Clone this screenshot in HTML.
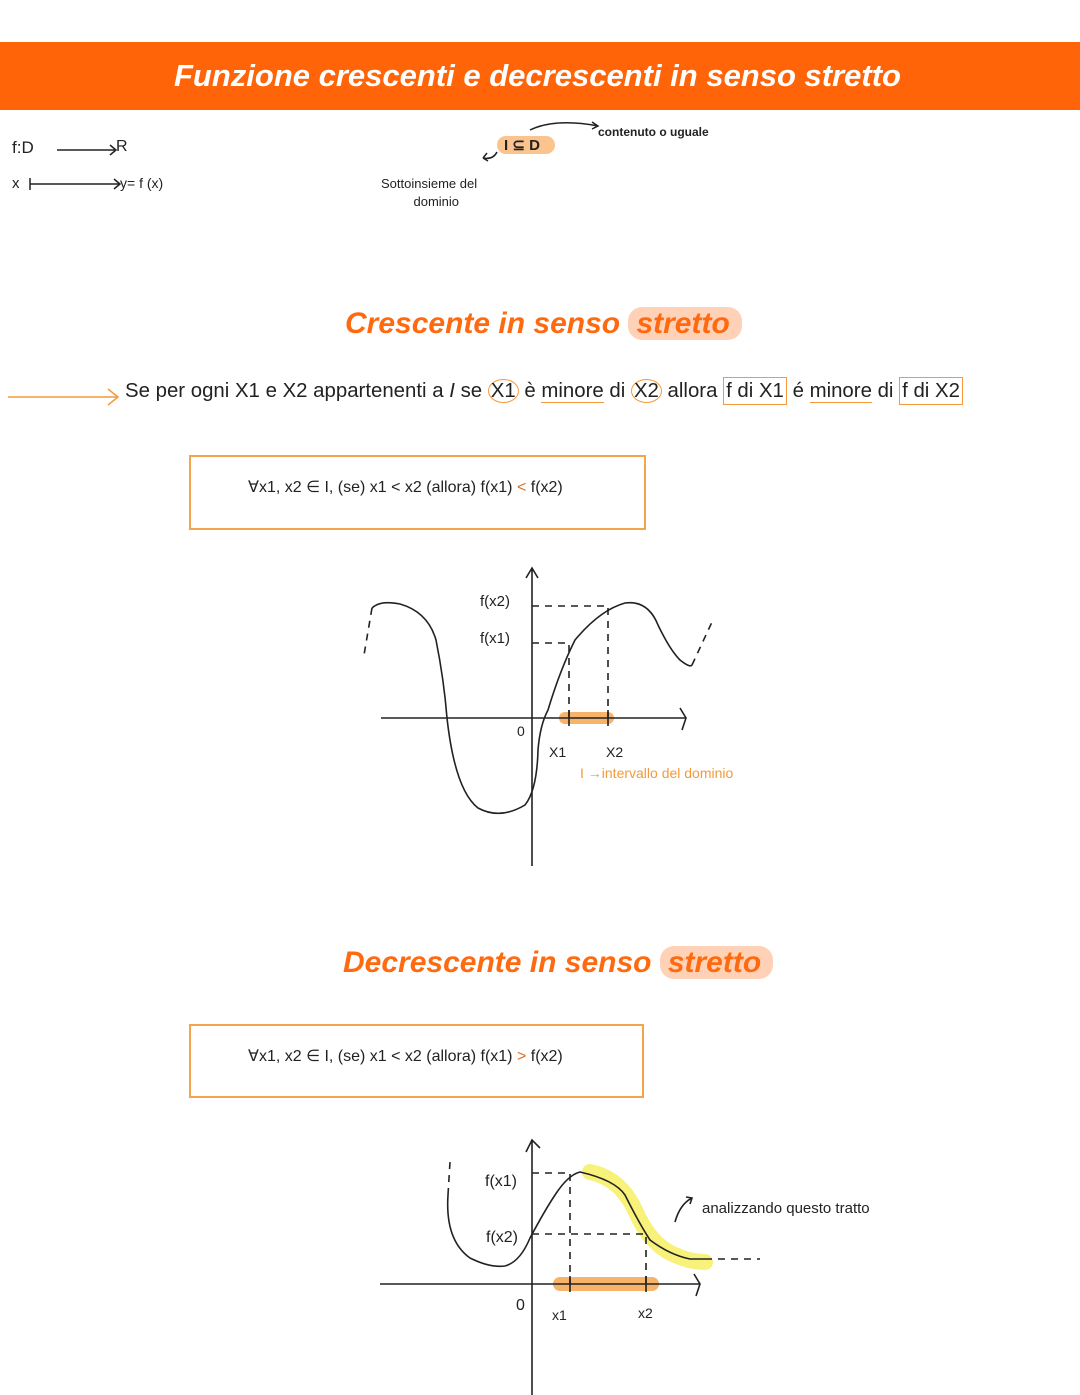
<!DOCTYPE html>
<html><head><meta charset="utf-8"><style>
body{margin:0;width:1080px;height:1395px;background:#fff;position:relative;overflow:hidden;font-family:"Liberation Sans",sans-serif}
.a{position:absolute;white-space:nowrap}
.bar{position:absolute;left:0;top:42px;width:1080px;height:68px;background:#ff6508}
.title{left:0;width:1075px;text-align:center;top:58px;color:#fff;font-weight:bold;font-style:italic;font-size:31px}
.h{font-weight:bold;font-style:italic;font-size:30px;color:#ff6a10}
.pill{background:#ffd2b8;border-radius:14px;padding:0 12px 0 8px}
.hw{font-size:14px;color:#222}
.box{position:absolute;border:2px solid #f3a54a}
.circ{border:1.5px solid #f39a3a;border-radius:50%;padding:0 2px}
.sq{border:1.5px solid #f39a3a;padding:2px 2px}
.ul{border-bottom:1.5px solid #f39a3a}
</style></head><body>
<div class="bar"></div>
<div class="a title">Funzione crescenti e decrescenti in senso stretto</div>

<div class="a hw" style="left:12px;top:138px;font-size:17px">f:D</div>
<div class="a hw" style="left:116px;top:138px;font-size:16px">R</div>
<div class="a hw" style="left:12px;top:175px;font-size:15px">x</div>
<div class="a hw" style="left:120px;top:175px;font-size:14px">y= f (x)</div>
<svg class="a" style="left:0;top:0" width="1080" height="1395">
<g stroke="#222" stroke-width="1.5" fill="none">
<path d="M57 150H116M110 145l6 5-6 5"/>
<path d="M30 178v12M30 184H120M114 179l6 5-6 5"/>
<path d="M530 130 Q555 118 598 126M592 122l6 4-6 3"/>
<path d="M497 152 Q493 160 483 158M483 158l4-5M483 158l5 3"/>
<path d="M8 397H118M108 389l10 8-10 8" stroke="#f39a3a"/>
</g>
</svg>
<div class="a" style="left:497px;top:136px;width:58px;height:18px;background:#fbc38e;border-radius:9px"></div>
<div class="a hw" style="left:504px;top:136px;font-size:15px;font-weight:bold">I ⊆ D</div>
<div class="a hw" style="left:598px;top:125px;font-size:12px;font-weight:bold">contenuto o uguale</div>
<div class="a hw" style="left:381px;top:175px;font-size:13px;line-height:18px;text-align:center">Sottoinsieme del<br>&nbsp;&nbsp;&nbsp;&nbsp;dominio</div>

<div class="a h" style="left:345px;top:307px">Crescente in senso <span class="pill">stretto</span></div>
<div class="a" style="left:125px;top:380px;font-size:20.4px;color:#222">Se per ogni X1 e X2 appartenenti a <i>I</i> se <span class="circ">X1</span> è <span class="ul">minore</span> di <span class="circ">X2</span> allora <span class="sq">f di X1</span> é <span class="ul">minore</span> di <span class="sq">f di X2</span></div>

<div class="box" style="left:189px;top:455px;width:453px;height:71px"></div>
<div class="a hw" style="left:248px;top:477px;font-size:16px">∀x1, x2 ∈ I, (se) x1 &lt; x2 (allora) f(x1) <span style="color:#e07020">&lt;</span> f(x2)</div>

<div class="a h" style="left:343px;top:946px">Decrescente in senso <span class="pill">stretto</span></div>
<div class="box" style="left:189px;top:1024px;width:451px;height:70px"></div>
<div class="a hw" style="left:248px;top:1046px;font-size:16px">∀x1, x2 ∈ I, (se) x1 &lt; x2 (allora) f(x1) <span style="color:#e07020">&gt;</span> f(x2)</div>

<svg class="a" style="left:0;top:0" width="1080" height="1395">
<path d="M565 718H608" stroke="#f7b36a" stroke-width="12" stroke-linecap="round"/>
<g stroke="#222" stroke-width="1.6" fill="none">
<path d="M532 866V568M526 578l6-10 6 10"/>
<path d="M381 718H686M680 708l6 10-4 12"/>
<path d="M372 608 Q380 600 400 604 Q428 612 436 640 Q444 680 447 718 Q455 790 478 808 Q500 820 525 805 Q537 790 538 750 Q540 725 548 710 Q560 670 575 640 Q600 610 625 603 Q648 600 658 625 Q670 650 680 660 Q690 668 692 665"/>
<path d="M372 608L364 655M692 665L712 622" stroke-dasharray="7 6"/>
<path d="M532 606H608V718M532 643H569V718" stroke-dasharray="7 6"/>
<path d="M569 710v16M608 710v16"/>
</g>
<text x="480" y="606" font-size="15" font-family="Liberation Sans" fill="#222">f(x2)</text>
<text x="480" y="643" font-size="15" font-family="Liberation Sans" fill="#222">f(x1)</text>
<text x="517" y="736" font-size="14" font-family="Liberation Sans" fill="#222">0</text>
<text x="549" y="757" font-size="14" font-family="Liberation Sans" fill="#222">X1</text>
<text x="606" y="757" font-size="14" font-family="Liberation Sans" fill="#222">X2</text>
<text x="580" y="778" font-size="14" font-family="Liberation Sans" fill="#f39a3a">I →intervallo del dominio</text>
<path d="M590 1172 Q620 1178 635 1210 Q650 1245 675 1255 Q690 1262 705 1262" stroke="#f8f27a" stroke-width="16" stroke-linecap="round" fill="none"/>
<path d="M560 1284H652" stroke="#f7b36a" stroke-width="14" stroke-linecap="round"/>
<g stroke="#222" stroke-width="1.6" fill="none">
<path d="M532 1395V1140M526 1152l6-12 8 8"/>
<path d="M380 1284H700M694 1274l6 10-4 12"/>
<path d="M448 1195 Q445 1240 470 1258 Q490 1268 505 1266 Q520 1262 530 1238 Q545 1210 555 1195 Q568 1175 580 1172 Q615 1180 625 1195 Q640 1225 650 1240 Q670 1255 690 1259 H705"/>
<path d="M448 1195L450 1162M705 1259H760M532 1173H570V1284M532 1234H646V1284" stroke-dasharray="7 6"/>
<path d="M570 1276v16M646 1276v16"/>
<path d="M675 1222 Q680 1204 692 1198M686 1197l6 1-2 6"/>
</g>
<text x="485" y="1186" font-size="16" font-family="Liberation Sans" fill="#222">f(x1)</text>
<text x="486" y="1242" font-size="16" font-family="Liberation Sans" fill="#222">f(x2)</text>
<text x="516" y="1310" font-size="16" font-family="Liberation Sans" fill="#222">0</text>
<text x="552" y="1320" font-size="14" font-family="Liberation Sans" fill="#222">x1</text>
<text x="638" y="1318" font-size="14" font-family="Liberation Sans" fill="#222">x2</text>
<text x="702" y="1213" font-size="15" font-family="Liberation Sans" fill="#222">analizzando questo tratto</text>
</svg>
</body></html>
